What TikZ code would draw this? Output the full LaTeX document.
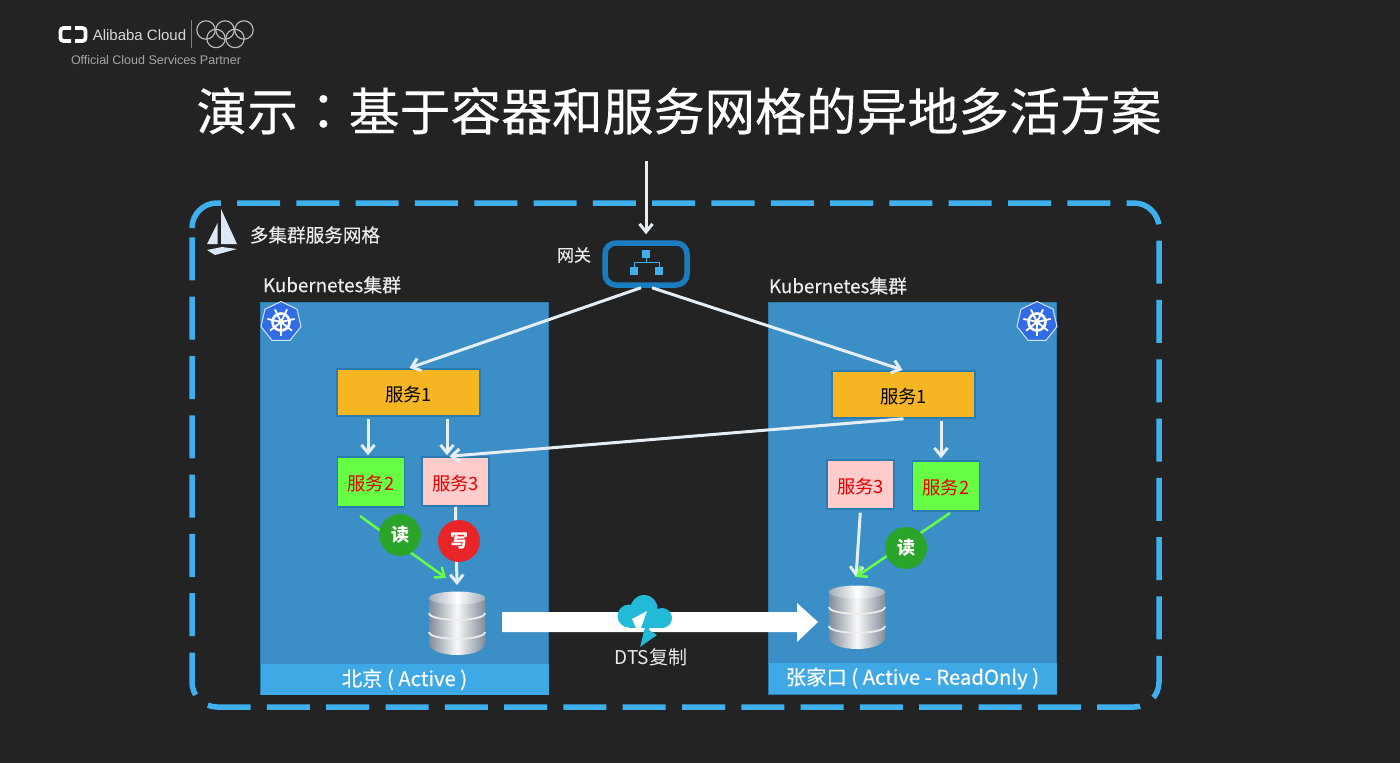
\documentclass[tikz,border=0pt]{standalone}
\usepackage{fontspec}
\setmainfont{Noto Sans CJK SC}
\newfontfamily\logofont{Liberation Sans}
\newfontfamily\medfont[FakeBold=0.35]{Noto Sans CJK SC}
\newfontfamily\colonfont[FakeBold=0.35]{Noto Sans CJK TC}
\usepackage{tikz}
\usetikzlibrary{arrows,arrows.meta,shapes,positioning,calc}

\definecolor{slidebg}{HTML}{232323}
\definecolor{meshblue}{HTML}{3FB0EE}
\definecolor{clusterblue}{HTML}{3C8FC6}
\definecolor{clusteredge}{HTML}{2B7BB0}
\definecolor{barblue}{HTML}{3FA9E6}
\definecolor{gwblue}{HTML}{1A7DBF}
\definecolor{yellowbox}{HTML}{F6B624}
\definecolor{greenbox}{HTML}{66FF44}
\definecolor{pinkbox}{HTML}{FFCCCC}
\definecolor{linewhite}{HTML}{E6EEF5}
\definecolor{readgreen}{HTML}{2AA52A}
\definecolor{writered}{HTML}{E8262A}
\definecolor{dtscyan}{HTML}{22BAD6}
\definecolor{k8sblue}{HTML}{326CE5}
\definecolor{dbedge}{HTML}{808C9A}
\definecolor{dbtop}{HTML}{A3ADB8}
\definecolor{sailwhite}{HTML}{DCE8F5}
\newcommand{\fsz}[1]{\fontsize{#1}{#1}\selectfont}

\tikzset{
	cluster/.style={draw=clusteredge,line width=1.5pt,fill=clusterblue,minimum width=288pt,minimum height=392pt,inner sep=0pt},
	clusterbar/.style={fill=barblue,minimum width=288pt,minimum height=31pt,inner sep=0pt,text=white,font=\fsz{20.3}\medfont},
	bigsvc/.style={draw=clusteredge,line width=1.5pt,fill=yellowbox,minimum width=143pt,minimum height=47pt,inner sep=0pt,text height=19.5pt,text depth=2pt,font=\fsz{18.3}},
	greensvc/.style={draw=clusteredge,line width=1.5pt,fill=greenbox,minimum width=67pt,minimum height=50pt,inner sep=0pt,text height=19.5pt,text depth=2pt,text=red!90!black,font=\fsz{18.3}},
	pinksvc/.style={draw=clusteredge,line width=1.5pt,fill=pinkbox,minimum width=67pt,minimum height=49pt,inner sep=0pt,text height=19.5pt,text depth=2pt,text=red!90!black,font=\fsz{18.3}},
	badge/.style={circle,minimum size=42pt,inner sep=0pt,text=white,font=\fsz{18}\bfseries},
	whitelabel/.style={text=white!92!black,inner sep=0pt},
	link/.style={draw=linewhite,line width=3pt,-{Straight Barb[length=8pt,width=13pt]}},
	readlink/.style={draw=greenbox,line width=2.5pt,-{Straight Barb[length=8pt,width=13pt]}},
	dbicon/.pic={
		\shade[left color=dbedge,right color=dbedge,middle color=white!95!gray] (-28,-25) -- (-28,20) .. controls (-28,36) and (28,36) .. (28,20) -- (28,-25) -- cycle;
		\shade[left color=dbtop,right color=dbtop,middle color=white] (0,-25) ellipse [x radius=28,y radius=6.5];
		\draw[white!85!gray,line width=1.8pt] (-28,-10) .. controls (-28,-1) and (28,-1) .. (28,-10);
		\draw[white!85!gray,line width=1.8pt] (-28,9) .. controls (-28,18) and (28,18) .. (28,9);
	},
	k8sicon/.pic={
		\node[regular polygon,regular polygon sides=7,draw=white!80!k8sblue,line width=1pt,fill=k8sblue,minimum size=41pt,inner sep=0pt] (-hept) at (0,0) {};
		\draw[white,line width=2.6pt] (0,0) circle (8.5);
		\fill[white] (0,0) circle (3);
		\foreach \a in {90,141.4,192.9,244.3,295.7,347.1,398.6} {
			\draw[white,line width=1.8pt] (0,0) -- (\a:14);
		}
	}
}

\begin{document}
\begin{tikzpicture}[x=1pt,y=-1pt]
	\useasboundingbox (0,0) rectangle (1400,763);
	\fill[slidebg] (0,0) rectangle (1400,763);

	% logo
	\draw[white,line width=3.8pt,rounded corners=3pt] (71,28) -- (60.5,28) -- (60.5,41) -- (71,41);
	\draw[white,line width=3.8pt,rounded corners=3pt] (75,28) -- (85.5,28) -- (85.5,41) -- (75,41);
	\node[text=white!85!black,inner sep=0pt] (brand) at (139.5,35) {\logofont\fsz{15}Alibaba Cloud};
	\draw[gray,line width=0.8pt] (191,20) -- (191,48);
	\foreach \x/\y in {206/30,225/30,244/30,216/38.5,235/38.5} {
		\draw[white!75!black,line width=1.1pt] (\x,\y) circle (9.2);
	}
	\node[text=white!65!black,inner sep=0pt] (partner) at (156,60) {\logofont\fsz{12.5}Official Cloud Services Partner};

	\node[text=white,inner sep=0pt] (title) at (679,111) {\medfont\fsz{50.8}演示{\colonfont：}基于容器和服务网格的异地多活方案};

	% mesh frame
	\draw[meshblue,line width=5.5pt,dash pattern=on 43pt off 16.3pt] (192,228) .. controls (192,214.2) and (203.2,203) .. (217,203) -- (1134,203) .. controls (1147.8,203) and (1159,214.2) .. (1159,228) -- (1159,682) .. controls (1159,695.8) and (1147.8,707) .. (1134,707) -- (217,707) .. controls (203.2,707) and (192,695.8) .. (192,682) -- cycle;
	\fill[sailwhite] (217.5,223) -- (207,244) -- (217.5,244) -- cycle;
	\fill[sailwhite] (221,209) -- (237,244) -- (221,244) -- cycle;
	\fill[sailwhite] (207,250) -- (222,247) -- (237,249) -- (215,255) -- cycle;
	\node[whitelabel,font=\fsz{18.6}\medfont] (meshlabel) at (315,235) {多集群服务网格};

	% clusters
	\node[cluster] (bjcluster) at (404.5,498.5) {};
	\node[cluster] (zjkcluster) at (912.5,498.5) {};
	\node[clusterbar] (bjbar) at (404.5,679.5) {北京 ( Active )\hspace{6pt}};
	\node[clusterbar] (zjkbar) at (912.5,678.5) {张家口 ( Active - ReadOnly )\hspace{9pt}};
	\node[whitelabel,font=\fsz{18.8}\medfont] (bjtitle) at (332,285) {Kubernetes集群};
	\node[whitelabel,font=\fsz{18.8}\medfont] (zjktitle) at (838,286) {Kubernetes集群};
	\pic (bjk8s) at (281,322) {k8sicon};
	\pic (zjkk8s) at (1037,322) {k8sicon};

	% gateway
	\node[draw=gwblue,line width=5.5pt,fill=slidebg,rounded corners=11pt,minimum width=82pt,minimum height=42pt,inner sep=0pt] (gw) at (646,264) {};
	\node[whitelabel,font=\fsz{17}\medfont] (gwlabel) at (574,255) {网关};
	\fill[meshblue] (642,250) rectangle (650,258);
	\fill[meshblue] (630,267) rectangle (638,275);
	\fill[meshblue] (655,267) rectangle (663,275);
	\draw[meshblue,line width=1pt] (634,267) -- (634,262.5) -- (659,262.5) -- (659,267);
	\draw[meshblue,line width=1pt] (646,258) -- (646,262.5);
	\coordinate (entry) at (646,161);

	% services
	\node[bigsvc] (bjsvcA) at (408.5,392.5) {服务1};
	\node[greensvc] (bjsvcB) at (371,482) {服务2};
	\node[pinksvc] (bjsvcC) at (455.5,481.5) {服务3};
	\node[bigsvc] (zjksvcA) at (903.5,394.5) {服务1};
	\node[pinksvc] (zjksvcC) at (860.5,484.5) {服务3};
	\node[greensvc] (zjksvcB) at (946,486) {服务2};

	% databases
	\pic (bjdb) at (457,623) {dbicon};
	\pic (zjkdb) at (857,617) {dbicon};
	\coordinate (bjdbtop) at (457,585);
	\coordinate (bjdbin) at (446,578);
	\coordinate (zjkdbin) at (856,577);
	\coordinate (bjreadout) at (360,516);
	\coordinate (zjkreadout) at (950,513);

	% links
	\draw[link,shorten >=6pt] (entry) -- (gw.north);
	\draw[link,shorten >=1pt] ([xshift=-5pt]gw.south) -- (bjsvcA.north);
	\draw[link,shorten >=1pt] ([xshift=6pt]gw.south) -- (zjksvcA.north);
	\draw[link,shorten <=2pt,shorten >=1pt] ([xshift=-3pt]bjsvcB.north |- bjsvcA.south) -- ([xshift=-3pt]bjsvcB.north);
	\draw[link,shorten <=2pt,shorten >=1pt] ([xshift=-8.5pt]bjsvcC.north |- bjsvcA.south) -- ([xshift=-8.5pt]bjsvcC.north);
	\draw[link] (zjksvcA.south) -- ([xshift=-6pt]bjsvcC.north);
	\draw[link,shorten <=2pt,shorten >=2pt] ([xshift=-5pt]zjksvcB.north |- zjksvcA.south) -- ([xshift=-5pt]zjksvcB.north);
	\draw[link] (bjsvcC.south) -- (bjdbtop);
	\draw[link,shorten <=3pt] (zjksvcC.south) -- (zjkdbin);
	\draw[readlink] (bjreadout) -- (bjdbin);
	\draw[readlink] (zjkreadout) -- (zjkdbin);
	\node[badge,fill=readgreen] (bjread) at (400,535) {读};
	\node[badge,fill=writered] (bjwrite) at (459,541) {写};
	\node[badge,fill=readgreen] (zjkread) at (906,548) {读};

	% replication
	\fill[white] (502,612) -- (797,612) -- (797,603) -- (818,622) -- (797,642) -- (797,632) -- (502,632) -- cycle;
	\fill[dtscyan] (629,616) circle (11.5);
	\fill[dtscyan] (644,608.5) circle (13.5);
	\fill[dtscyan] (662,618) circle (10);
	\fill[dtscyan] (629,614) rectangle (662,628);
	\fill[white] (647,611) -- (632,619) -- (636,628) -- (641,628) -- cycle;
	\fill[dtscyan] (650,607) -- (640,647) -- (657,635) -- (649,630) -- cycle;
	\node[whitelabel,font=\fsz{19}] (dtslabel) at (651,657) {DTS复制};
\end{tikzpicture}
\end{document}
